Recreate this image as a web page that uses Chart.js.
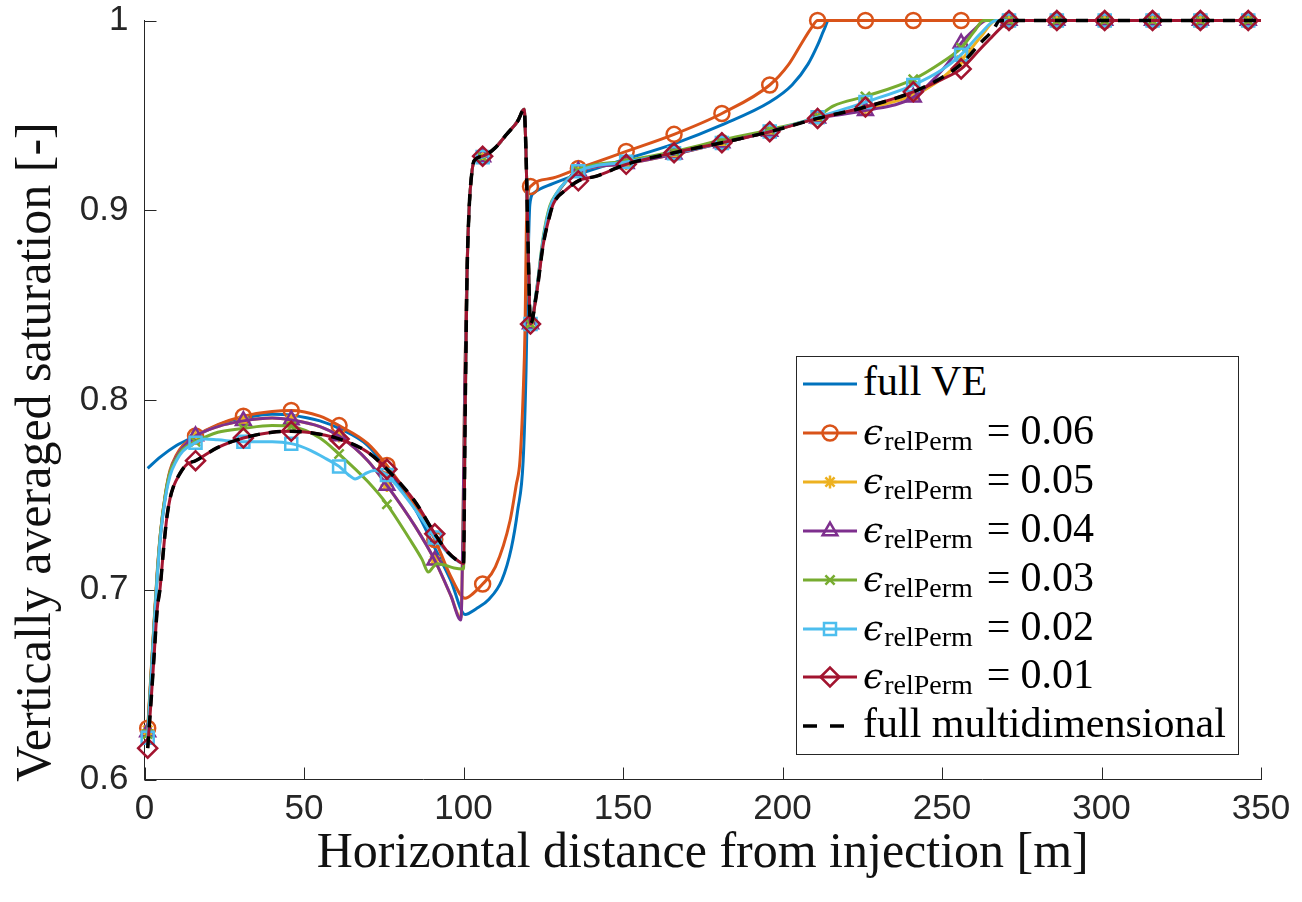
<!DOCTYPE html>
<html>
<head>
<meta charset="utf-8">
<script src="https://cdn.jsdelivr.net/npm/chart.js@4.4.1/dist/chart.umd.min.js"></script>
<style>
  html, body { margin: 0; padding: 0; background: #fff; }
  #wrap { position: relative; width: 1302px; height: 902px; }
  #chart { position: absolute; left: 0; top: 0; }
  #legend {
    position: absolute; left: 796px; top: 356px; width: 441px; height: 397px;
    border: 1px solid #262626; background: #fff;
    font-family: 'Liberation Serif', 'Times New Roman', serif; font-size: 42px; color: #000;
  }
  .row { position: absolute; left: 0; width: 100%; height: 50px; }
  .row canvas { position: absolute; left: 6px; top: 0; }
  .row span.txt { position: absolute; left: 66px; top: -3px; line-height: 50px; white-space: nowrap; }
  .eps { font-family: 'DejaVu Serif', serif; font-style: italic; font-size: 36px; }
  .sub { font-size: 28px; position: relative; top: 6px; margin-left: 1px; }
  .eq { margin: 0 10px 0 14px; }
</style>
</head>
<body>
<div id="wrap">
  <canvas id="chart" width="1302" height="902"></canvas>
  <div id="legend"></div>
</div>
<script>
// marker positions along x (every 15 m)
const markerX = [1, 16, 31, 46, 61, 76, 91, 106, 121, 136, 151, 166, 181, 196, 211, 226, 241, 256, 271, 286, 301, 316, 331, 346];

const xTicks = [0, 50, 100, 150, 200, 250, 300, 350];
const yTicks = [0.6, 0.7, 0.8, 0.9, 1];
const yTickLabels = ['0.6', '0.7', '0.8', '0.9', '1'];

const xTitle = 'Horizontal distance from injection [m]';
const yTitle = 'Vertically averaged saturation [-]';
const seriesLabels = ['full VE', '0.06', '0.05', '0.04', '0.03', '0.02', '0.01', 'full multidimensional'];

// [x, saturation]
const satFullVE = [[1, 0.764], [5, 0.770], [10, 0.776], [16, 0.781], [25, 0.788], [31, 0.7905], [40, 0.7925], [46, 0.792],
  [55, 0.789], [61, 0.785], [70, 0.776], [76, 0.7635], [85, 0.742], [91, 0.722], [96, 0.705], [100.5, 0.687],
  [104, 0.690], [108, 0.695], [112, 0.705], [115, 0.722], [117, 0.742], [118.7, 0.768], [119.6, 0.815], [120.2, 0.87],
  [120.8, 0.903], [122, 0.909], [128, 0.914], [136, 0.919], [151, 0.927], [166, 0.935], [181, 0.945], [196, 0.957],
  [203, 0.966], [208, 0.977], [211, 0.987], [213, 0.995], [214.5, 1.0], [226, 1], [271, 1], [350, 1]];

const sat06 = [[1, 0.627], [2, 0.655], [3, 0.683], [4, 0.71], [5, 0.73], [6.5, 0.75], [8, 0.763], [10, 0.771], [12, 0.776],
  [16, 0.781], [23, 0.787], [31, 0.7915], [40, 0.794], [46, 0.7945], [55, 0.7915], [61, 0.7865], [70, 0.777], [76, 0.7655],
  [85, 0.744], [91, 0.7265], [96, 0.707], [100.5, 0.6955], [103, 0.698], [106, 0.703], [110, 0.712], [114.6, 0.7365],
  [116.5, 0.755], [117.7, 0.768], [118.7, 0.803], [119.3, 0.838], [119.7, 0.89], [120.2, 0.908], [121, 0.9125],
  [128, 0.917], [136, 0.922], [151, 0.931], [166, 0.940], [181, 0.951], [196, 0.966], [202, 0.977], [206, 0.988],
  [209, 0.996], [211, 1.0], [226, 1], [241, 1], [256, 1], [271, 1], [286, 1], [301, 1], [316, 1], [331, 1], [346, 1], [350, 1]];

const sat05 = [[1, 0.626], [2, 0.654], [3, 0.682], [4, 0.708], [5, 0.729], [6.5, 0.749], [8, 0.762], [10, 0.770], [12, 0.775],
  [16, 0.781], [23, 0.786], [31, 0.789], [40, 0.7905], [46, 0.7895], [55, 0.786], [61, 0.781], [70, 0.768], [76, 0.755],
  [85, 0.733], [91, 0.7155], [96, 0.697], [99.2, 0.685], [99.8, 0.73], [100.4, 0.81], [101.1, 0.87], [101.8, 0.902],
  [102.5, 0.918], [103.3, 0.926], [106, 0.928], [110, 0.933], [113.5, 0.940], [117, 0.947], [119, 0.9532], [119.6, 0.93],
  [120.2, 0.885], [121, 0.840], [122.9, 0.857], [125, 0.884], [127, 0.900], [129.2, 0.908], [132, 0.915], [136, 0.9205],
  [151, 0.9245], [166, 0.9295], [181, 0.9355], [196, 0.9415], [211, 0.9485], [226, 0.9535], [241, 0.9605], [248, 0.967],
  [256, 0.979], [262, 0.991], [267, 1.0], [271, 1], [286, 1], [301, 1], [316, 1], [331, 1], [346, 1], [350, 1]];

const sat04 = [[1, 0.625], [2, 0.653], [3, 0.681], [4, 0.708], [5, 0.729], [6.5, 0.749], [8, 0.762], [10, 0.770], [12, 0.775],
  [16, 0.781], [23, 0.786], [31, 0.789], [40, 0.7905], [46, 0.7895], [55, 0.786], [61, 0.781], [70, 0.768], [76, 0.755],
  [85, 0.733], [91, 0.7155], [96, 0.697], [99.2, 0.684], [99.8, 0.73], [100.4, 0.81], [101.1, 0.87], [101.8, 0.902],
  [102.5, 0.918], [103.3, 0.926], [106, 0.928], [110, 0.933], [113.5, 0.940], [117, 0.947], [119, 0.9532], [119.6, 0.93],
  [120.2, 0.885], [121, 0.840], [122.9, 0.857], [125, 0.884], [127, 0.900], [129.2, 0.908], [132, 0.915], [136, 0.9205],
  [151, 0.9245], [166, 0.9295], [181, 0.9355], [196, 0.9415], [211, 0.9485], [226, 0.9525], [241, 0.9595], [248, 0.970],
  [253, 0.980], [256, 0.988], [260, 0.995], [264, 1.0], [271, 1], [286, 1], [301, 1], [316, 1], [331, 1], [346, 1], [350, 1]];

const sat03 = [[1, 0.624], [2, 0.653], [3, 0.682], [4, 0.709], [5, 0.73], [6.5, 0.75], [8, 0.762], [10, 0.769], [12, 0.774],
  [16, 0.778], [23, 0.783], [31, 0.785], [40, 0.7865], [46, 0.786], [55, 0.780], [61, 0.7715], [70, 0.757], [76, 0.745],
  [83, 0.727], [87, 0.716], [89, 0.7093], [90.5, 0.712], [91.6, 0.7137], [94, 0.713], [97, 0.7115], [100, 0.711],
  [100.5, 0.79], [101.1, 0.865], [101.8, 0.902], [102.5, 0.918], [103.3, 0.926], [106, 0.928], [110, 0.933], [113.5, 0.940],
  [117, 0.947], [119, 0.9532], [119.6, 0.93], [120.2, 0.885], [121, 0.840], [122.9, 0.858], [125, 0.886], [127, 0.902],
  [129.2, 0.909], [132, 0.915], [136, 0.921], [151, 0.926], [166, 0.931], [181, 0.937], [196, 0.9425], [211, 0.9495],
  [216, 0.955], [226, 0.960], [241, 0.969], [250, 0.978], [256, 0.9856], [260, 0.994], [263, 1.0], [271, 1], [286, 1],
  [301, 1], [316, 1], [331, 1], [346, 1], [350, 1]];

const sat02 = [[1, 0.622], [2, 0.651], [3, 0.680], [4, 0.707], [5, 0.728], [6.5, 0.748], [8, 0.760], [10, 0.768], [12, 0.773],
  [16, 0.7775], [19, 0.7795], [23, 0.779], [31, 0.778], [40, 0.778], [46, 0.777], [52, 0.7735], [57, 0.769], [61, 0.765],
  [64, 0.7605], [66, 0.7584], [69, 0.761], [72, 0.7628], [74, 0.762], [76, 0.7605], [80, 0.753], [85, 0.742], [91, 0.7275],
  [95, 0.7195], [98.5, 0.7148], [100, 0.714], [100.5, 0.79], [101.1, 0.865], [101.8, 0.902], [102.5, 0.918], [103.3, 0.926],
  [106, 0.928], [110, 0.933], [113.5, 0.940], [117, 0.947], [119, 0.9532], [119.6, 0.93], [120.2, 0.885], [121, 0.840],
  [122.9, 0.858], [125, 0.885], [127, 0.901], [129.2, 0.909], [132, 0.915], [136, 0.9205], [151, 0.9255], [166, 0.930],
  [181, 0.9355], [196, 0.9415], [211, 0.949], [226, 0.957], [241, 0.966], [250, 0.974], [256, 0.982], [262, 0.993],
  [267, 1.0], [271, 1], [286, 1], [301, 1], [316, 1], [331, 1], [346, 1], [350, 1]];

const sat01 = [[1, 0.6165], [2, 0.64], [3, 0.665], [4, 0.69], [4.9, 0.701], [6, 0.722], [7, 0.738], [8, 0.748], [9, 0.754],
  [11, 0.761], [13.2, 0.766], [16, 0.768], [23, 0.775], [31, 0.780], [40, 0.783], [46, 0.7835], [55, 0.782], [61, 0.7795],
  [70, 0.7725], [76, 0.7635], [85, 0.746], [91, 0.7295], [95, 0.72], [98.9, 0.7145], [100, 0.7137], [100.5, 0.79],
  [101.1, 0.865], [101.8, 0.902], [102.5, 0.918], [103.3, 0.926], [106, 0.9285], [110, 0.933], [113.5, 0.940], [117, 0.947],
  [119, 0.9532], [119.6, 0.93], [120.2, 0.885], [121, 0.840], [122.9, 0.856], [125, 0.882], [127, 0.897], [128.2, 0.9035],
  [132.3, 0.911], [136, 0.9155], [141.7, 0.918], [151, 0.9242], [166, 0.9303], [181, 0.9356], [196, 0.9414], [211, 0.9484],
  [226, 0.9544], [241, 0.9624], [250, 0.969], [256, 0.9745], [262, 0.985], [266, 0.992], [269, 0.997], [271, 1.0],
  [286, 1], [301, 1], [316, 1], [331, 1], [346, 1], [350, 1]];

const satMulti = [[1, 0.6165], [2, 0.64], [3, 0.665], [4, 0.69], [4.9, 0.701], [6, 0.722], [7, 0.738], [8, 0.748], [9, 0.754],
  [11, 0.761], [13.2, 0.766], [16, 0.768], [23, 0.775], [31, 0.780], [40, 0.783], [46, 0.7835], [55, 0.782], [61, 0.7795],
  [70, 0.7725], [76, 0.7635], [85, 0.746], [91, 0.7295], [95, 0.72], [98.9, 0.7145], [100, 0.7137], [100.5, 0.79],
  [101.1, 0.865], [101.8, 0.902], [102.5, 0.918], [103.3, 0.926], [106, 0.9285], [110, 0.933], [113.5, 0.940], [117, 0.947],
  [119, 0.9532], [119.6, 0.93], [120.2, 0.885], [121, 0.840], [122.9, 0.856], [125, 0.882], [127, 0.897], [128.2, 0.9035],
  [132.3, 0.911], [136, 0.9155], [141.7, 0.918], [151, 0.9242], [166, 0.9303], [181, 0.9356], [196, 0.9414], [211, 0.9484],
  [226, 0.9544], [241, 0.9624], [250, 0.970], [256, 0.977], [262, 0.988], [266, 0.995], [268.2, 1.0], [286, 1], [350, 1]];

const axisColor = '#262626';

function toXY(pts) {
  return pts.map(([x, y]) => ({ x, y }));
}

function curve(label, pts, color, style, radius, order) {
  return {
    label,
    data: toXY(pts),
    borderColor: color,
    borderWidth: 3,
    pointStyle: style || false,
    pointRadius: (c) => (style && markerX.includes(c.raw.x) ? radius : 0),
    pointBorderColor: color,
    pointBackgroundColor: 'rgba(0,0,0,0)',
    pointBorderWidth: 2.5,
    cubicInterpolationMode: 'monotone',
    clip: false,
    order,
  };
}

const datasets = [
  curve(seriesLabels[0], satFullVE, '#0072BD', null, 0, 8),
  curve('ϵrelPerm = ' + seriesLabels[1], sat06, '#D95319', 'circle', 7.5, 7),
  curve('ϵrelPerm = ' + seriesLabels[2], sat05, '#EDB120', 'star', 6.5, 6),
  curve('ϵrelPerm = ' + seriesLabels[3], sat04, '#7E2F8E', 'triangle', 8.5, 5),
  curve('ϵrelPerm = ' + seriesLabels[4], sat03, '#77AC30', 'crossRot', 6.5, 4),
  curve('ϵrelPerm = ' + seriesLabels[5], sat02, '#4DBEEE', 'rect', 8.5, 3),
  curve('ϵrelPerm = ' + seriesLabels[6], sat01, '#A2142F', 'rectRot', 9.5, 2),
  Object.assign(curve(seriesLabels[7], satMulti, '#000000', null, 0, 1), { borderDash: [12, 9], borderWidth: 3.5 }),
];

// MATLAB-style inward tick marks
const inwardTicks = {
  id: 'inwardTicks',
  beforeDatasetsDraw(chart) {
    const { ctx, chartArea, scales: { x, y } } = chart;
    ctx.save();
    ctx.strokeStyle = axisColor;
    ctx.lineWidth = 1;
    ctx.beginPath();
    x.ticks.forEach((t) => {
      const px = Math.round(x.getPixelForValue(t.value)) + 0.5;
      ctx.moveTo(px, chartArea.bottom);
      ctx.lineTo(px, chartArea.bottom - 12);
    });
    y.ticks.forEach((t) => {
      const py = Math.round(y.getPixelForValue(t.value)) + 0.5;
      ctx.moveTo(chartArea.left, py);
      ctx.lineTo(chartArea.left + 12, py);
    });
    ctx.stroke();
    ctx.restore();
  },
};

// y title sits a bit below the axis centre in the original
const yTitlePlugin = {
  id: 'yTitlePlugin',
  afterDraw(chart) {
    const { ctx, chartArea } = chart;
    ctx.save();
    ctx.translate(37, (chartArea.top + chartArea.bottom) / 2 + 52);
    ctx.rotate(-Math.PI / 2);
    ctx.font = '50px "Liberation Serif"';
    ctx.fillStyle = '#111';
    ctx.textAlign = 'center';
    ctx.textBaseline = 'middle';
    ctx.fillText(yTitle, 0, 0);
    ctx.restore();
  },
};

const chart = new Chart(document.getElementById('chart'), {
  type: 'line',
  data: { datasets },
  options: {
    responsive: false,
    animation: false,
    layout: { padding: { left: 0, top: 20.5, right: 41, bottom: 0 } },
    plugins: { legend: { display: false }, tooltip: { enabled: false } },
    scales: {
      x: {
        type: 'linear',
        min: 0,
        max: 350,
        afterBuildTicks: (s) => { s.ticks = xTicks.map((v) => ({ value: v })); },
        afterFit: (s) => { s.height = 122.5; s.paddingLeft = 0; s.paddingRight = 0; },
        grid: { display: false, drawTicks: false },
        border: { display: true, color: axisColor, width: 1 },
        ticks: { color: axisColor, padding: 12, font: { family: 'Liberation Sans', size: 35, lineHeight: 1 } },
        title: {
          display: true,
          text: xTitle,
          color: '#111',
          font: { family: 'Liberation Serif', size: 50 },
          padding: { top: 0, bottom: 18 },
        },
      },
      y: {
        type: 'linear',
        min: 0.6,
        max: 1,
        afterBuildTicks: (s) => { s.ticks = yTicks.map((v) => ({ value: v })); },
        afterFit: (s) => { s.width = 144.5; s.paddingTop = 0; s.paddingBottom = 0; },
        grid: { display: false, drawTicks: false },
        border: { display: true, color: axisColor, width: 1 },
        ticks: {
          color: axisColor,
          padding: 16,
          font: { family: 'Liberation Sans', size: 35, lineHeight: 1 },
          callback: (v) => yTickLabels[yTicks.indexOf(v)] ?? String(v),
        },
        title: { display: false, text: yTitle },
      },
    },
  },
  plugins: [inwardTicks, yTitlePlugin],
});

// HTML legend (needs subscripts)
function buildLegend() {
  const box = document.getElementById('legend');
  const rowTop = 2;
  const rowStep = 48.9;
  chart.data.datasets.forEach((ds, i) => {
    const row = document.createElement('div');
    row.className = 'row';
    row.style.top = (rowTop + i * rowStep) + 'px';

    const cv = document.createElement('canvas');
    cv.width = 56;
    cv.height = 50;
    const g = cv.getContext('2d');
    g.strokeStyle = ds.borderColor;
    g.lineWidth = ds.borderWidth;
    if (ds.borderDash) g.setLineDash([14, 13]);
    g.beginPath();
    g.moveTo(0, 25);
    g.lineTo(ds.borderDash ? 42 : 54, 25);
    g.stroke();
    g.setLineDash([]);
    if (ds.pointStyle) {
      const r = ds.pointRadius({ raw: { x: markerX[0] } });
      g.fillStyle = 'rgba(0,0,0,0)';
      g.strokeStyle = ds.borderColor;
      g.lineWidth = ds.pointBorderWidth;
      Chart.helpers.drawPoint(g, { pointStyle: ds.pointStyle, radius: r, borderWidth: ds.pointBorderWidth, rotation: 0 }, 27, 25);
    }
    row.appendChild(cv);

    const txt = document.createElement('span');
    txt.className = 'txt';
    if (i === 0 || i === 7) {
      txt.textContent = seriesLabels[i];
    } else {
      txt.innerHTML = '<span class="eps">ϵ</span><span class="sub">relPerm</span><span class="eq">=</span>' + seriesLabels[i];
    }
    row.appendChild(txt);
    box.appendChild(row);
  });
}
buildLegend();
</script>
</body>
</html>
